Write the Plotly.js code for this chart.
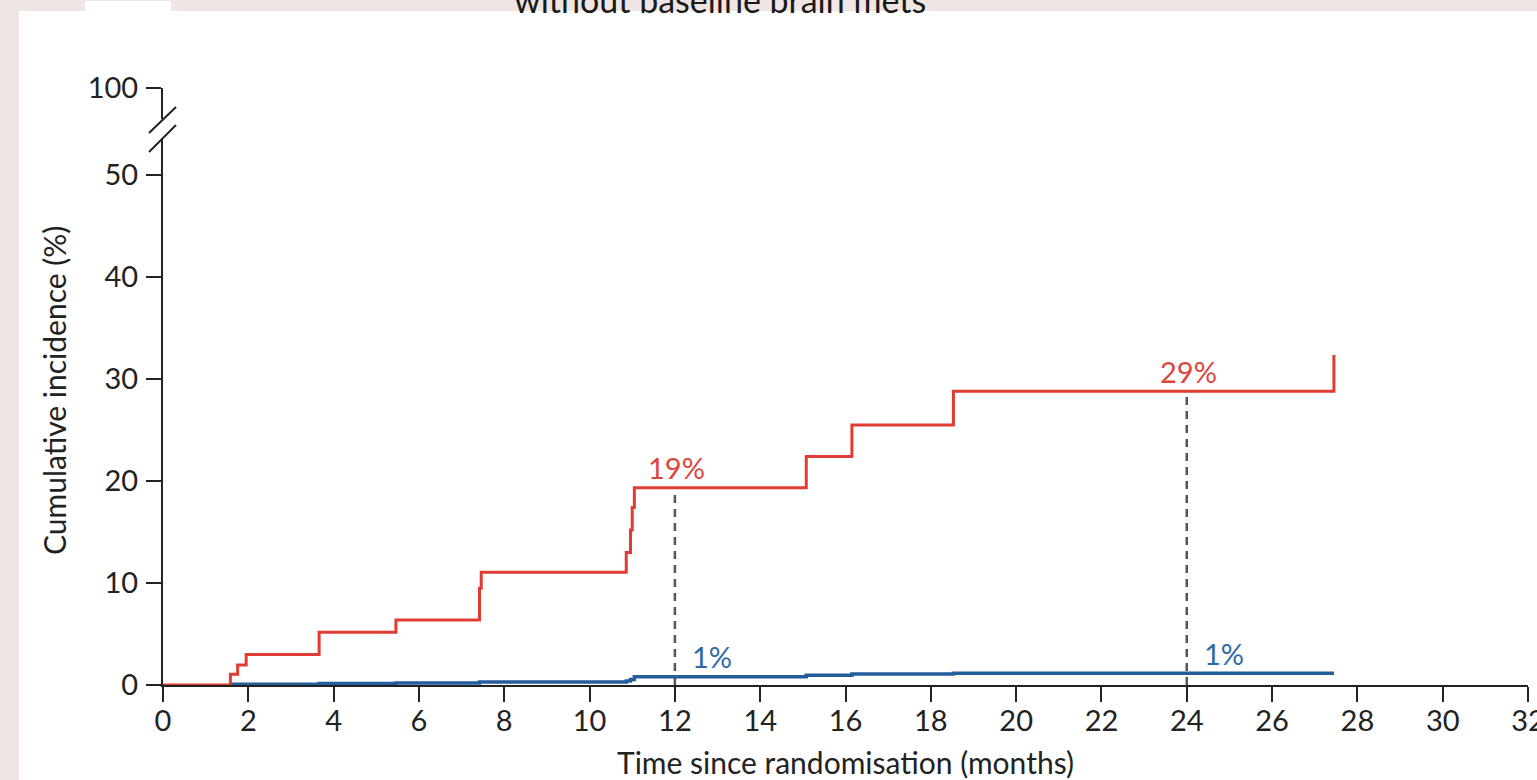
<!DOCTYPE html>
<html>
<head>
<meta charset="utf-8">
<script src="https://cdn.plot.ly/plotly-3.0.1.min.js"></script>
<style>
  html, body { margin: 0; padding: 0; background: #efe6e3; }
  #chart { width: 1537px; height: 780px; }
</style>
</head>
<body>
<div id="chart"></div>
<script>
// Cumulative incidence of CNS progression, patients without baseline brain metastases
const redMonths   = [0, 1.58, 1.75, 1.95, 3.66, 5.46, 7.42, 7.46, 10.86, 10.96, 11.0, 11.05, 15.08, 16.15, 18.53, 27.45, 27.45];
const redValues   = [0, 1.05, 1.96, 3.0, 5.16, 6.37, 9.48, 11.05, 13.0, 15.2, 17.4, 19.35, 22.4, 25.5, 28.8, 28.8, 32.35];

const blueMonths  = [1.6, 3.66, 5.46, 7.42, 10.86, 10.96, 11.05, 15.08, 16.15, 18.53, 27.45];
const blueValues  = [0.08, 0.14, 0.2, 0.3, 0.4, 0.55, 0.8, 0.95, 1.08, 1.15, 1.15];

const landmarkMonths = [12, 24];
const xTickValues = [0, 2, 4, 6, 8, 10, 12, 14, 16, 18, 20, 22, 24, 26, 28, 30, 32];
const yTickValues = [0, 10, 20, 30, 40, 50];
const yTopTick = [100];

const RED = '#e03c33';
const BLUE = '#235d9c';
const RED_TXT = '#d9473e';
const BLUE_TXT = '#2f6aa8';
const INK = '#222222';
const DASH = '#4b5965';
const FONT = 'Lato, "Open Sans", sans-serif';

// plot-area geometry in pixels, used for the decorations around the axes
const PL = 163, PR = 1528, PT = 88, PB = 685;
const px2x = p => (p - PL) / (PR - PL);
const px2y = p => (PB - p) / (PB - PT);

// value of a right-continuous step function at time t
function stepAt(xs, ys, t) {
  let v = 0;
  for (let i = 0; i < xs.length; i++) { if (xs[i] <= t) v = ys[i]; }
  return v;
}

const traces = [];

// dashed landmark drop lines from the red curve down to the axis
landmarkMonths.forEach(m => {
  traces.push({
    x: [m, m], y: [0, stepAt(redMonths, redValues, m) - 0.3],
    mode: 'lines', type: 'scatter', hoverinfo: 'skip', showlegend: false,
    line: { color: DASH, width: 2.5, dash: '8px,6px' }
  });
});

traces.push({
  x: redMonths, y: redValues, type: 'scatter', mode: 'lines',
  line: { color: RED, width: 3, shape: 'hv' }, showlegend: false
});
traces.push({
  x: blueMonths, y: blueValues, type: 'scatter', mode: 'lines',
  line: { color: BLUE, width: 3.5, shape: 'hv' }, showlegend: false
});

// phantom trace to carry the upper (broken) part of the y axis
traces.push({
  x: [0], y: [100], yaxis: 'y2', type: 'scatter', mode: 'markers',
  marker: { opacity: 0 }, hoverinfo: 'skip', showlegend: false
});

const annotations = [];
landmarkMonths.forEach(m => {
  const r = stepAt(redMonths, redValues, m);
  const b = stepAt(blueMonths, blueValues, m);
  annotations.push({
    x: m, y: r, xref: 'x', yref: 'y', text: Math.round(r) + '%', showarrow: false,
    xanchor: 'center', yanchor: 'middle', xshift: 2, yshift: 20,
    font: { family: FONT, size: 29, color: RED_TXT }
  });
  annotations.push({
    x: m, y: b, xref: 'x', yref: 'y', text: Math.round(b) + '%', showarrow: false,
    xanchor: 'left', yanchor: 'middle', xshift: 15, yshift: 20,
    font: { family: FONT, size: 29, color: BLUE_TXT }
  });
});

// heading, partly hidden behind the top edge
annotations.push({
  x: px2x(720), xref: 'paper', y: px2y(-1), yref: 'paper', showarrow: false,
  text: 'without baseline brain mets', xanchor: 'center', yanchor: 'middle',
  font: { family: FONT, size: 34, color: '#1a1a1a' }
});

// y-axis title
annotations.push({
  x: px2x(54), xref: 'paper', y: px2y(391), yref: 'paper', showarrow: false,
  text: 'Cumulative incidence (%)', textangle: -90, xanchor: 'center', yanchor: 'middle',
  font: { family: FONT, size: 30, color: INK }
});

const shapes = [
  // white page over the pink backdrop
  { type: 'rect', xref: 'paper', yref: 'paper', layer: 'below',
    x0: px2x(19), x1: px2x(1545), y0: px2y(790), y1: px2y(11),
    fillcolor: '#ffffff', line: { width: 0 } },
  { type: 'rect', xref: 'paper', yref: 'paper', layer: 'below',
    x0: px2x(85), x1: px2x(171), y0: px2y(12), y1: px2y(1),
    fillcolor: '#ffffff', line: { width: 0 } },
  // axis break marks
  { type: 'line', xref: 'paper', yref: 'paper',
    x0: px2x(149), y0: px2y(133), x1: px2x(176), y1: px2y(107),
    line: { color: INK, width: 2 } },
  { type: 'line', xref: 'paper', yref: 'paper',
    x0: px2x(149), y0: px2y(152), x1: px2x(176), y1: px2y(125),
    line: { color: INK, width: 2 } }
];

const axisFont = { family: FONT, size: 29, color: INK };

const layout = {
  width: 1537, height: 780,
  margin: { l: PL, r: 1537 - PR, t: PT, b: 780 - PB },
  paper_bgcolor: '#efe6e3',
  plot_bgcolor: 'rgba(0,0,0,0)',
  showlegend: false,
  xaxis: {
    range: [0, 32], tickvals: xTickValues, ticktext: xTickValues.map(String),
    showgrid: false, zeroline: false, showline: true, linecolor: INK, linewidth: 2,
    ticks: 'outside', ticklen: 15, tickwidth: 2, tickcolor: INK,
    tickfont: axisFont, ticklabeloverflow: 'allow', ticklabelstandoff: -6,
    title: { text: 'Time since randomisation (months)', font: { family: FONT, size: 30, color: INK }, standoff: 22 },
    automargin: false, fixedrange: true
  },
  yaxis: {
    domain: [0, px2y(139)], range: [0, (PB - 139) / 10.2],
    tickvals: yTickValues, showgrid: false, zeroline: false,
    showline: true, linecolor: INK, linewidth: 2,
    ticks: 'outside', ticklen: 15, tickwidth: 2, tickcolor: INK,
    tickfont: axisFont, ticklabelstandoff: 2,
    automargin: false, fixedrange: true
  },
  yaxis2: {
    domain: [px2y(119), 1], range: [100 - 31 / 10.2, 100],
    tickvals: yTopTick, showgrid: false, zeroline: false,
    showline: true, linecolor: INK, linewidth: 2,
    ticks: 'outside', ticklen: 15, tickwidth: 2, tickcolor: INK,
    tickfont: axisFont, ticklabelstandoff: 2, anchor: 'x',
    automargin: false, fixedrange: true
  },
  shapes: shapes,
  annotations: annotations
};

Plotly.newPlot('chart', traces, layout, { displayModeBar: false, staticPlot: true });
</script>
</body>
</html>
